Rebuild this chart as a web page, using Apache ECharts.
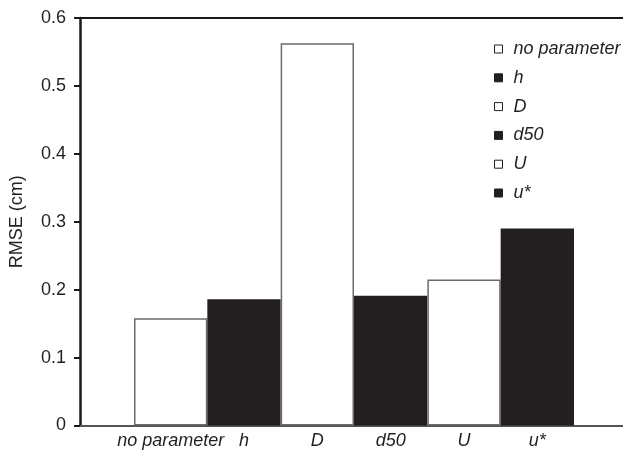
<!DOCTYPE html>
<html>
<head>
<meta charset="utf-8">
<script src="https://cdn.jsdelivr.net/npm/echarts@6/dist/echarts.min.js"></script>
<style>
  html, body { margin: 0; padding: 0; background: #fff; }
  #chart { width: 623px; height: 450px; }
</style>
</head>
<body>
<div id="chart"></div>
<script>
// ---- data ----
const categories = ['no parameter', 'h', 'D', 'd50', 'U', 'u*'];
const rmseValues = [0.158, 0.186, 0.563, 0.191, 0.215, 0.290];
const barFills = ['#ffffff', '#231f20', '#ffffff', '#231f20', '#ffffff', '#231f20'];
const yTickMin = 0;
const yTickMax = 0.6;
const yTickStep = 0.1;

const FONT = '"Liberation Sans", Arial, Helvetica, sans-serif';
const TEXT = '#231f20';

const chart = echarts.init(document.getElementById('chart'), null, { renderer: 'canvas' });

const barSeries = categories.map((name, i) => ({
  name: name,
  type: 'bar',
  xAxisIndex: 2,
  yAxisIndex: 1,
  stack: 'all',
  barWidth: '100%',
  barCategoryGap: 0,
  data: categories.map((c, j) => (j === i ? rmseValues[i] : '-')),
  itemStyle: barFills[i] === '#ffffff'
    ? { color: '#ffffff', borderColor: '#6a6a6a', borderWidth: 1.5 }
    : { color: barFills[i], borderColor: barFills[i], borderWidth: 0 },
  z: 3
}));

const option = {
  backgroundColor: '#ffffff',
  animation: false,
  textStyle: { fontFamily: FONT },
  legend: {
    orient: 'vertical',
    left: 489,
    top: 35,
    itemWidth: 8,
    itemHeight: 8,
    itemGap: 10.8,
    icon: 'rect',
    data: categories,
    textStyle: {
      fontFamily: FONT,
      fontSize: 18,
      fontStyle: 'italic',
      color: TEXT,
      lineHeight: 17,
      padding: [0, 0, 0, 6]
    },
    itemStyle: { borderWidth: 1, borderColor: '#231f20' }
  },
  grid: [
    { left: 80, right: 0, top: 18, bottom: 24.5, containLabel: false },
    { left: 134, right: 49, top: 18, bottom: 24.5, containLabel: false }
  ],
  xAxis: [
    {
      gridIndex: 0, type: 'value', min: 0, max: 1, position: 'bottom',
      axisLine: { show: true, onZero: false, lineStyle: { color: '#555555', width: 2 } },
      axisTick: { show: false }, axisLabel: { show: false }, splitLine: { show: false }
    },
    {
      gridIndex: 0, type: 'value', min: 0, max: 1, position: 'top',
      axisLine: { show: true, onZero: false, lineStyle: { color: '#1a1a1a', width: 2 } },
      axisTick: { show: false }, axisLabel: { show: false }, splitLine: { show: false }
    },
    {
      gridIndex: 1, type: 'category', data: categories, boundaryGap: true,
      axisLine: { show: false }, axisTick: { show: false }, splitLine: { show: false },
      axisLabel: {
        show: true, interval: 0, margin: 6,
        fontFamily: FONT, fontSize: 18, fontStyle: 'italic', color: TEXT
      }
    }
  ],
  yAxis: [
    {
      gridIndex: 0, type: 'value', min: yTickMin, max: yTickMax, interval: yTickStep,
      name: 'RMSE (cm)', nameLocation: 'middle', nameRotate: 90, nameGap: 54,
      nameTextStyle: { fontFamily: FONT, fontSize: 18, color: TEXT },
      axisLine: { show: true, lineStyle: { color: '#1a1a1a', width: 2.5 } },
      axisTick: { show: true, inside: false, length: 6, lineStyle: { color: '#1a1a1a', width: 2 } },
      axisLabel: {
        margin: 14, fontFamily: FONT, fontSize: 18, color: TEXT,
        formatter: v => (Math.round(v * 10) / 10).toString()
      },
      splitLine: { show: false }
    },
    {
      gridIndex: 1, type: 'value', min: yTickMin, max: yTickMax, interval: yTickStep,
      show: false, splitLine: { show: false }
    }
  ],
  series: barSeries
};

chart.setOption(option);
</script>
</body>
</html>
